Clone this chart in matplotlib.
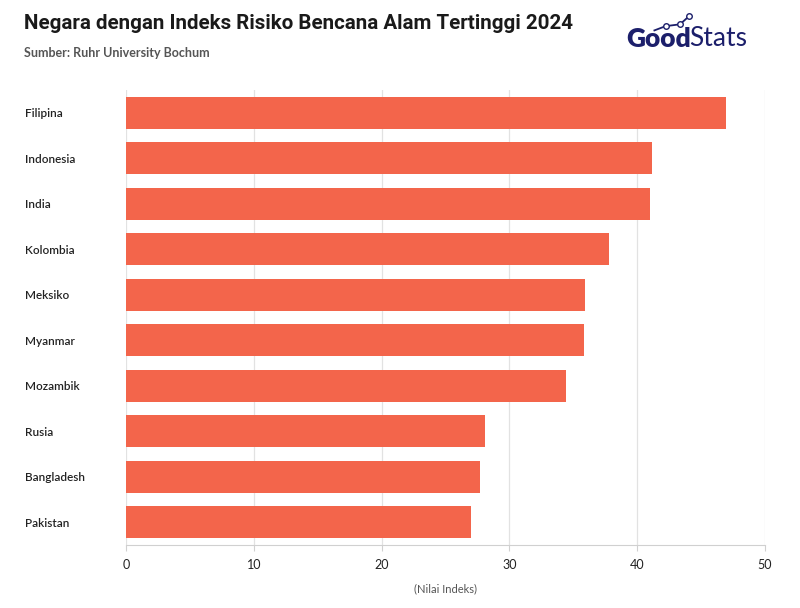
import numpy as np
import matplotlib
matplotlib.use('Agg')
from matplotlib import pyplot as plt

# Data
negara = ['Filipina', 'Indonesia', 'India', 'Kolombia', 'Meksiko',
          'Myanmar', 'Mozambik', 'Rusia', 'Bangladesh', 'Pakistan']
nilai = [46.91, 41.13, 40.96, 37.81, 35.93, 35.83, 34.41, 28.11, 27.73, 26.99]
x_ticks = [0, 10, 20, 30, 40, 50]

plt.rcParams['font.family'] = ['Lato', 'DejaVu Sans']

fig = plt.figure(figsize=(8, 6.08), dpi=100)
ax = fig.add_axes([0.1575, 0.1036, 0.9563 - 0.1575, 0.852 - 0.1036])

y = np.arange(len(negara))
ax.barh(y, nilai, height=0.71, color='#F3654B', zorder=3)
ax.set_ylim(len(negara) - 0.5, -0.5)
ax.set_xlim(0, 50)

ax.set_xticks(x_ticks)
ax.set_xticklabels([str(t) for t in x_ticks], fontsize=9, color='#222222')
ax.set_yticks(y)
ax.set_yticklabels(negara, fontsize=8.5, color='#222222', ha='left',
                   fontweight='semibold')
ax.tick_params(axis='y', length=0, pad=73)
ax.tick_params(axis='x', length=4, color='#d0d0d0', pad=6)

ax.grid(axis='x', color='#e2e2e2', linewidth=0.9, zorder=0)
for s in ['top', 'right', 'left']:
    ax.spines[s].set_visible(False)
ax.spines['bottom'].set_color('#d0d0d0')

ax.set_xlabel('(Nilai Indeks)', fontsize=8, color='#555555', labelpad=9)

# Judul
fig.text(0.03, 0.962, 'Negara dengan Indeks Risiko Bencana Alam Tertinggi 2024',
         fontsize=14.8, fontweight='bold', color='#1a1a1a', va='center',
         family=['Roboto', 'DejaVu Sans'])
fig.text(0.03, 0.913, 'Sumber: Ruhr University Bochum', fontsize=9,
         fontweight='bold', color='#555555', va='center')

# Logo GoodStats
logo_y = 0.936
t1 = fig.text(0.783, logo_y, 'Good', fontsize=19, fontweight='heavy',
              color='#1c1f6b', va='center')
fig.canvas.draw()
bb = t1.get_window_extent().transformed(fig.transFigure.inverted())
fig.text(bb.x1 - 0.002, logo_y, 'Stats', fontsize=19, fontweight='normal',
         color='#1c1f6b', va='center')
lx = [0.818, 0.832, 0.850, 0.861]
ly = [0.950, 0.957, 0.960, 0.973]
fig.add_artist(plt.Line2D(lx, ly, color='#1c1f6b', linewidth=1.3,
                          marker='o', markersize=4, markerfacecolor='white',
                          markeredgecolor='#1c1f6b', markevery=[1, 2, 3],
                          transform=fig.transFigure))

plt.savefig('out.png', dpi=100, facecolor='white')
